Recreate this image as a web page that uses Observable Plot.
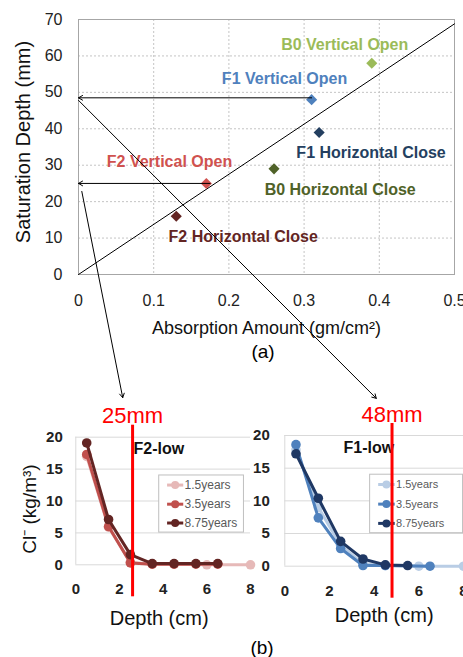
<!DOCTYPE html>
<html><head><meta charset="utf-8">
<script src="https://cdn.jsdelivr.net/npm/d3@7"></script>
<script src="https://cdn.jsdelivr.net/npm/@observablehq/plot@0.6"></script>
<style>
body{margin:0;background:#fff;}
#wrap{position:relative;width:463px;height:657px;overflow:hidden;background:#fff;font-family:"Liberation Sans",Arial,sans-serif;}
#wrap svg{position:absolute;overflow:visible;}
.cap{position:absolute;font-size:19px;color:#000;transform:translate(-50%,-50%);white-space:nowrap;}
</style></head><body><div id="wrap"></div>
<script>
// ---------- (a) saturation depth vs absorption ----------
const specimens = ["B0 Vertical Open","F1 Vertical Open","F1 Horizontal Close","B0 Horizontal Close","F2 Vertical Open","F2 Horizontal Close"];
const absorption = [0.39, 0.31, 0.32, 0.26, 0.17, 0.13];
const satDepth = [58, 48, 39, 29, 25, 16];
const specColors = ["#9bbb59","#4f81bd","#243f60","#4f6228","#d0524f","#632523"];
const labelX = [0.354, 0.274, 0.389, 0.348, 0.121, 0.219];
const labelY = [63.1, 53.8, 33.5, 23.3, 31.0, 10.2];
const xTicksA = [0, 0.1, 0.2, 0.3, 0.4, 0.5];
const yTicksA = [0, 10, 20, 30, 40, 50, 60, 70];
// annotation arrows (in chart (a) data units)
const arrowX1 = [0.31, 0.175, 0, 0.0044];
const arrowY1 = [48.5, 25, 47.8, 22.8];
const arrowX2 = [0, 0, 0.396, 0.0588];
const arrowY2 = [48.5, 25, -34.0, -33.8];

// ---------- (b) chloride profiles ----------
const seriesNames = ["1.5years","3.5years","8.75years"];
const f2Depth = [[0.5,1.5,2.5,3.5,4.5,6,8],[0.5,1.5,2.5,3.5,4.5,5.5,6.5],[0.5,1.5,2.5,3.5,4.5,5.5,6.5]];
const f2Cl    = [[17.0,5.9,0.4,0.1,0.1,0,0],[17.3,6.0,0.3,0.1,0.1,0.1,0.1],[19.1,7.1,1.6,0.2,0.2,0.2,0.2]];
const f1Depth = [[0.5,1.5,2.5,3.5,4.5,6,8],[0.5,1.5,2.5,3.5,4.5,6.5],[0.5,1.5,2.5,3.5,4.5,5.5]];
const f1Cl    = [[17.8,9.0,3.2,0.4,0.1,0,0],[18.6,7.4,2.7,0.1,0.1,0],[17.2,10.4,3.8,1.1,0.2,0.1]];
const f2Colors = ["#e6b9b8","#c0504d","#632523"];
const f1Colors = ["#b9cde5","#4f81bd","#1f3864"];
const xTicksB = [0, 2, 4, 6, 8];
const yTicksB = [0, 5, 10, 15, 20];
const satCm = [2.6, 4.8];
const satLabels = ["25mm", "48mm"];
const panelTitles = ["F2-low", "F1-low"];
const legendRowY = [12.5, 9.5, 6.55];

const FONT = "Liberation Sans, Arial, sans-serif";
const wrap = document.getElementById("wrap");

// slope of trend line through origin (least squares)
const sxy = d3.sum(absorption, (x, i) => x * satDepth[i]);
const sxx = d3.sum(absorption, x => x * x);
const slope = sxy / sxx;
const trend = [0, 0.5].map(x => ({x, y: slope * x}));

const pts = specimens.map((name, i) => ({name, x: absorption[i], y: satDepth[i], color: specColors[i], lx: labelX[i], ly: labelY[i]}));
const arrows = arrowX1.map((x1, i) => ({x1, y1: arrowY1[i], x2: arrowX2[i], y2: arrowY2[i]}));

function clChart(o) {
  const marks = [
    Plot.gridY(yTicksB, {stroke: "#d9d9d9", strokeOpacity: 1}),
    Plot.ruleX([0], {stroke: "#d9d9d9"}),
    Plot.axisY(yTicksB, {tickSize: 0, tickPadding: o.yPad, fontSize: 15, fontWeight: "bold", fill: "#222", label: null}),
    Plot.axisX(xTicksB, {tickSize: 0, tickPadding: 19, fontSize: 15, fontWeight: "bold", fill: "#222", label: null})
  ];
  seriesNames.forEach((s, i) => {
    const rows = o.depths[i].map((d, j) => ({depth: d, cl: o.vals[i][j]}));
    marks.push(Plot.line(rows, {x: "depth", y: "cl", stroke: o.colors[i], strokeWidth: 3}));
    marks.push(Plot.dot(rows, {x: "depth", y: "cl", fill: o.colors[i], r: 4.8}));
  });
  const leg = seriesNames.map((s, i) => ({s, y: legendRowY[i], color: o.colors[i], lx1: 4.18, lx2: 4.92, lxm: 4.55, tx: 4.98}));
  marks.push(
    Plot.rect([{x1: 3.82, x2: o.legendX2, y1: 5.05, y2: 14.0}], {x1: "x1", x2: "x2", y1: "y1", y2: "y2", fill: "white", stroke: "#bfbfbf"}),
    Plot.link(leg, {x1: "lx1", x2: "lx2", y1: "y", y2: "y", stroke: "color", strokeWidth: 3}),
    Plot.dot(leg, {x: "lxm", y: "y", fill: "color", r: 4}),
    Plot.text(leg, {x: "tx", y: "y", text: "s", textAnchor: "start", fill: "#595959", fontSize: o.legendFont}),
    Plot.text([o.title], {frameAnchor: "top-left", dx: o.titleDx, dy: 12, textAnchor: "middle", lineAnchor: "middle", fontWeight: "bold", fontSize: 16, fill: "#111"}),
    Plot.ruleX([o.satX], {stroke: "#ff0000", strokeWidth: 3, insetTop: -12, insetBottom: -32}),
    Plot.text([{x: o.satX, t: o.satLabel}], {x: "x", text: "t", frameAnchor: "top", dy: -21, textAnchor: "middle", lineAnchor: "middle", fill: "#ff0000", fontSize: 22}),
    Plot.text(["Depth (cm)"], {frameAnchor: "bottom", dx: o.xlabDx, dy: o.xlabDy, textAnchor: "middle", lineAnchor: "middle", fontSize: 20, fill: "#111"})
  );
  if (o.ylabel) marks.push(Plot.text([o.ylabel], {frameAnchor: "left", rotate: -90, dx: -46, dy: 8, textAnchor: "middle", lineAnchor: "middle", fontSize: 19, fill: "#111"}));
  return Plot.plot({
    width: o.width, height: 262,
    marginLeft: o.mL, marginRight: o.mR, marginTop: o.mT, marginBottom: o.mB,
    color: {type: "identity"},
    x: {domain: [0, 8]}, y: {domain: [0, 20]},
    style: {background: "transparent", overflow: "visible", fontFamily: FONT},
    marks
  });
}

const leftChart = clChart({depths: f2Depth, vals: f2Cl, colors: f2Colors, title: panelTitles[0], satX: satCm[0], satLabel: satLabels[0],
  width: 256, mL: 75.3, mR: 6, mT: 41.7, mB: 92.7, legendX2: 7.7, legendFont: 12, yPad: 13, titleDx: 83, xlabDx: -4, xlabDy: 54, ylabel: "Cl⁻ (kg/m³)"});
leftChart.style.left = "0px"; leftChart.style.top = "395px";
wrap.appendChild(leftChart);

const rightChart = clChart({depths: f1Depth, vals: f1Cl, colors: f1Colors, title: panelTitles[1], satX: satCm[1], satLabel: satLabels[1],
  width: 215, mL: 36.3, mR: 0, mT: 40, mB: 91.3, legendX2: 7.98, legendFont: 11, yPad: 15, titleDx: 84, xlabDx: 10, xlabDy: 49, ylabel: null});
rightChart.style.left = "248px"; rightChart.style.top = "395px";
wrap.appendChild(rightChart);

const topChart = Plot.plot({
  width: 463, height: 410,
  marginLeft: 78, marginRight: 9, marginTop: 19, marginBottom: 136,
  color: {type: "identity"},
  x: {domain: [0, 0.5]}, y: {domain: [0, 70]},
  style: {background: "transparent", overflow: "visible", fontFamily: FONT},
  marks: [
    Plot.gridX(xTicksA, {stroke: "#c4c4c4", strokeOpacity: 1, strokeDasharray: "2,2"}),
    Plot.gridY(yTicksA, {stroke: "#c4c4c4", strokeOpacity: 1, strokeDasharray: "2,2"}),
    Plot.frame({stroke: "#a6a6a6"}),
    Plot.axisY(yTicksA, {tickSize: 0, tickPadding: 16, fontSize: 16, fill: "#222", label: null}),
    Plot.axisX(xTicksA, {tickSize: 0, tickPadding: 20, fontSize: 16, fill: "#222", label: null, tickFormat: d => String(d)}),
    Plot.line(trend, {x: "x", y: "y", stroke: "#000", strokeWidth: 1}),
    Plot.dot(pts, {x: "x", y: "y", symbol: "diamond2", r: 5, fill: "color"}),
    Plot.text(pts, {x: "lx", y: "ly", text: "name", fill: "color", fontWeight: "bold", fontSize: 16}),
    Plot.arrow(arrows, {x1: "x1", y1: "y1", x2: "x2", y2: "y2", stroke: "#000", strokeWidth: 1, headLength: 7}),
    Plot.text(["Absorption Amount (gm/cm²)"], {frameAnchor: "bottom", dy: 54, textAnchor: "middle", lineAnchor: "middle", fontSize: 18, fill: "#111"}),
    Plot.text(["Saturation Depth (mm)"], {frameAnchor: "left", rotate: -90, dx: -55, dy: -5, textAnchor: "middle", lineAnchor: "middle", fontSize: 20, fill: "#111"})
  ]
});
topChart.style.left = "0px"; topChart.style.top = "0px"; topChart.style.zIndex = "2";
wrap.appendChild(topChart);

for (const [t, x, y] of [["(a)", 263, 352], ["(b)", 262, 648]]) {
  const d = document.createElement("div");
  d.className = "cap"; d.textContent = t; d.style.left = x + "px"; d.style.top = y + "px";
  wrap.appendChild(d);
}
</script></body></html>
